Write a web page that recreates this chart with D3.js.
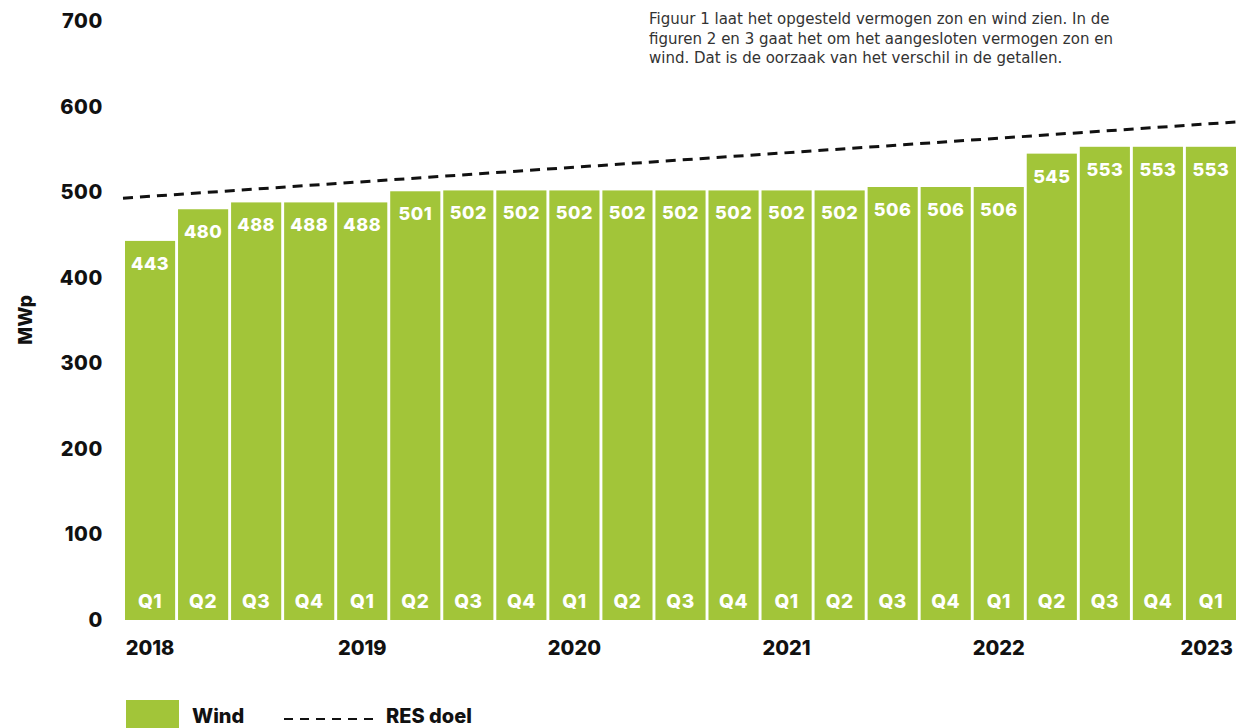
<!DOCTYPE html>
<html>
<head>
<meta charset="utf-8">
<script src="https://cdn.jsdelivr.net/npm/d3@7"></script>
<style>
  body { margin: 0; background: #fff; }
  svg { display: block; font-family: "Inter", "DejaVu Sans", sans-serif; }
</style>
</head>
<body>
<svg></svg>
<script>
var quarters = ["Q1","Q2","Q3","Q4","Q1","Q2","Q3","Q4","Q1","Q2","Q3","Q4","Q1","Q2","Q3","Q4","Q1","Q2","Q3","Q4","Q1"];
var years = ["2018","2019","2020","2021","2022","2023"];
var wind = [443,480,488,488,488,501,502,502,502,502,502,502,502,502,506,506,506,545,553,553,553];
var resDoel = [493, 582];
var yTicks = [0,100,200,300,400,500,600,700];
var note = ["Figuur 1 laat het opgesteld vermogen zon en wind zien. In de",
            "figuren 2 en 3 gaat het om het aangesloten vermogen zon en",
            "wind. Dat is de oorzaak van het verschil in de getallen."];

var svgWidth = 1236, svgHeight = 728;
var green = "#a2c539";

var svg = d3.select("svg").attr("width", svgWidth).attr("height", svgHeight);

var x = d3.scaleBand().domain(d3.range(wind.length)).range([125, 1236]).paddingInner(0.055).paddingOuter(0);
var y = d3.scaleLinear().domain([0, 700]).range([620, 21]);

// y axis labels
svg.append("g").selectAll("text").data(yTicks).join("text")
    .attr("x", 103).attr("y", function (d) { return y(d); })
    .attr("dy", "0.35em")
    .attr("text-anchor", "end")
    .attr("font-size", 20).attr("font-weight", 800).attr("fill", "#111")
    .attr("letter-spacing", 0.6)
    .text(function (d) { return d; });

svg.append("text")
    .attr("transform", "translate(32,320) rotate(-90)")
    .attr("text-anchor", "middle")
    .attr("font-size", 19).attr("font-weight", 800).attr("fill", "#111")
    .text("MWp");

// bars
var bars = svg.append("g").selectAll("g").data(wind).join("g");
bars.append("rect")
    .attr("x", function (d, i) { return x(i); })
    .attr("width", x.bandwidth())
    .attr("y", function (d) { return y(d); })
    .attr("height", function (d) { return y(0) - y(d); })
    .attr("fill", green);

bars.append("text")
    .attr("x", function (d, i) { return x(i) + x.bandwidth() / 2; })
    .attr("y", function (d) { return y(d) + 29; })
    .attr("text-anchor", "middle")
    .attr("font-size", 18).attr("font-weight", 800).attr("fill", "#fff")
    .attr("letter-spacing", 0.5)
    .text(function (d) { return d; });

bars.append("text")
    .attr("x", function (d, i) { return x(i) + x.bandwidth() / 2; })
    .attr("y", 608)
    .attr("text-anchor", "middle")
    .attr("font-size", 19).attr("font-weight", 800).attr("fill", "#fff")
    .attr("letter-spacing", 0.5)
    .text(function (d, i) { return quarters[i]; });

// years under each Q1 (last one kept inside the right edge)
svg.append("g").selectAll("text").data(years).join("text")
    .attr("x", function (d, i) {
        return i === years.length - 1 ? svgWidth - 3 : x(i * 4) + x.bandwidth() / 2;
    })
    .attr("y", 655)
    .attr("text-anchor", function (d, i) { return i === years.length - 1 ? "end" : "middle"; })
    .attr("font-size", 20).attr("font-weight", 800).attr("fill", "#111")
    .text(function (d) { return d; });

// RES doel line
var lx = d3.scaleLinear().domain([0, 1]).range([123, 1236]);
var line = d3.line().x(function (d, i) { return lx(i); }).y(function (d) { return y(d); });
svg.append("path")
    .datum(resDoel)
    .attr("d", line)
    .attr("fill", "none")
    .attr("stroke", "#111")
    .attr("stroke-width", 3)
    .attr("stroke-dasharray", "10,7");

// note
svg.append("g").selectAll("text").data(note).join("text")
    .attr("x", 649).attr("y", function (d, i) { return 24 + i * 19.5; })
    .attr("font-family", "DejaVu Sans, sans-serif")
    .attr("font-size", 15).attr("fill", "#333")
    .text(function (d) { return d; });

// legend
svg.append("rect").attr("x", 126).attr("y", 700).attr("width", 53).attr("height", 28).attr("fill", green);
svg.append("text").attr("x", 192).attr("y", 723)
    .attr("font-size", 20).attr("font-weight", 800).attr("fill", "#111").text("Wind");
svg.append("line").attr("x1", 284).attr("x2", 374).attr("y1", 719).attr("y2", 719)
    .attr("stroke", "#111").attr("stroke-width", 2).attr("stroke-dasharray", "9,7");
svg.append("text").attr("x", 386).attr("y", 723)
    .attr("font-size", 20).attr("font-weight", 800).attr("fill", "#111").text("RES doel");
</script>
</body>
</html>
